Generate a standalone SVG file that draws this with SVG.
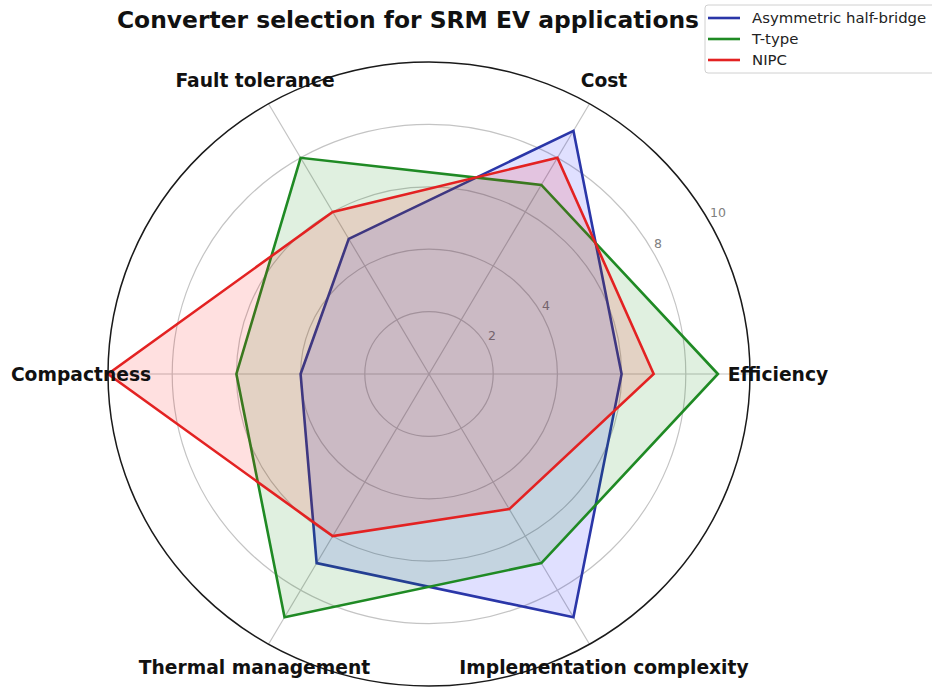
<svg xmlns="http://www.w3.org/2000/svg" width="932" height="689" viewBox="0 0 932 689">
<style>
.grid{fill:none;stroke:#c4c4c4;stroke-width:1.2}
.tick{font-family:"DejaVu Sans",sans-serif;font-size:12.5px;fill:#808080;text-anchor:middle}
.axl{font-family:"DejaVu Sans",sans-serif;font-weight:bold;font-size:18.7px;fill:#111;text-anchor:middle}
.title{font-family:"DejaVu Sans",sans-serif;font-weight:bold;font-size:23.4px;fill:#111;text-anchor:middle}
.leg{font-family:"DejaVu Sans",sans-serif;font-size:14.9px;fill:#222}
.ser{stroke-width:2.6;stroke-linejoin:miter}
</style>
<rect width="932" height="689" fill="#ffffff"/>
<g id="grid">
<ellipse class="grid" cx="429" cy="374" rx="64.2" ry="62.4"/>
<ellipse class="grid" cx="429" cy="374" rx="128.4" ry="124.8"/>
<ellipse class="grid" cx="429" cy="374" rx="192.6" ry="187.2"/>
<ellipse class="grid" cx="429" cy="374" rx="256.8" ry="249.6"/>
<line class="grid" x1="429" y1="374" x2="750" y2="374"/>
<line class="grid" x1="429" y1="374" x2="589.5" y2="103.8"/>
<line class="grid" x1="429" y1="374" x2="268.5" y2="103.8"/>
<line class="grid" x1="429" y1="374" x2="108" y2="374"/>
<line class="grid" x1="429" y1="374" x2="268.5" y2="644.2"/>
<line class="grid" x1="429" y1="374" x2="589.5" y2="644.2"/>
</g>
<g id="ticks">
<text class="tick" x="492" y="340">2</text>
<text class="tick" x="546" y="310">4</text>
<text class="tick" x="658" y="248">8</text>
<text class="tick" x="718" y="217">10</text>
</g>
<g id="connectors">
<polygon id="asym" class="ser" points="621.6,374 573.45,130.8 348.75,238.9 300.6,374 316.65,563.1 573.45,617.2" fill="rgba(0,0,255,0.12)" stroke="#2a36a8"/>
<polygon id="ttype" class="ser" points="717.9,374 541.35,184.9 300.6,157.8 236.4,374 284.55,617.2 541.35,563.1" fill="rgba(0,128,0,0.12)" stroke="#1f8a24"/>
<polygon id="nipc" class="ser" points="653.7,374 557.4,157.8 332.7,211.9 108,374 332.7,536.1 509.25,509.1" fill="rgba(255,0,0,0.12)" stroke="#e32222"/>
</g>
<ellipse id="spine" cx="429" cy="374" rx="321" ry="312" fill="none" stroke="#1a1a1a" stroke-width="1.5"/>
<g id="labels">
<text class="axl" x="778" y="381">Efficiency</text>
<text class="axl" x="604" y="87">Cost</text>
<text class="axl" x="255" y="87">Fault tolerance</text>
<text class="axl" x="81" y="381">Compactness</text>
<text class="axl" x="254.5" y="674">Thermal management</text>
<text class="axl" x="604" y="674">Implementation complexity</text>
</g>
<text class="title" x="408" y="28">Converter selection for SRM EV applications</text>
<g id="legend">
<rect x="705" y="5" width="240" height="68" rx="3" fill="#ffffff" fill-opacity="0.85" stroke="#d0d0d0" stroke-width="1"/>
<line x1="708" y1="18" x2="740" y2="18" stroke="#2a36a8" stroke-width="2.6"/>
<line x1="708" y1="39" x2="740" y2="39" stroke="#1f8a24" stroke-width="2.6"/>
<line x1="708" y1="60" x2="740" y2="60" stroke="#e32222" stroke-width="2.6"/>
<text class="leg" x="752" y="23">Asymmetric half-bridge</text>
<text class="leg" x="752" y="44">T-type</text>
<text class="leg" x="752" y="65">NIPC</text>
</g>
</svg>
